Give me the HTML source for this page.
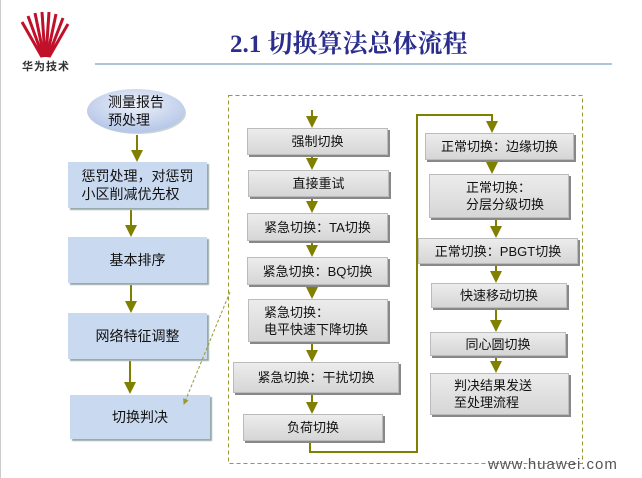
<!DOCTYPE html>
<html><head><meta charset="utf-8"><style>
body{margin:0;width:642px;height:478px;background:#fff;position:relative;overflow:hidden;font-family:"Liberation Sans","Noto Sans CJK SC",sans-serif;}
.b{position:absolute;box-sizing:border-box;background:linear-gradient(#ececec,#d6d6d6);border:1px solid #bbb;box-shadow:2px 2px 0 #888;font-size:13px;color:#111;display:flex;align-items:center;justify-content:center;line-height:17px;}
.l{position:absolute;box-sizing:border-box;background:#c9d9f0;box-shadow:2px 2px 1px #9aa;font-size:14px;color:#111;display:flex;align-items:center;justify-content:center;line-height:18px;text-align:left;}
</style></head><body>
<div style="position:absolute;left:0;top:0;width:1px;height:478px;background:#ccc"></div>
<svg width="642" height="478" style="position:absolute;left:0;top:0">
<defs><marker id="a" markerWidth="6" markerHeight="6" refX="5" refY="3" orient="auto"><path d="M0,0L6,3L0,6z" fill="#7f7f00"/></marker>
<radialGradient id="e" cx="50%" cy="35%" r="60%"><stop offset="0" stop-color="#eef2fb"/><stop offset="1" stop-color="#b8c8e8"/></radialGradient></defs>
<g stroke="#c0102a" stroke-width="3" fill="none">
<path d="M42,57 L22,22"/><path d="M43,57 L28,16"/><path d="M44,57 L35,13"/><path d="M45,57 L42,12"/><path d="M46,57 L49,12"/><path d="M47,57 L56,14"/><path d="M48,57 L63,18"/><path d="M49,57 L68,24"/>
</g>
<line x1="95" y1="64" x2="612" y2="64" stroke="#8fb4cf" stroke-width="1.5"/>
<rect x="228.5" y="95.5" width="354" height="368" fill="none" stroke="#9a9a30" stroke-dasharray="4,3"/>
<ellipse cx="138" cy="113" rx="48" ry="21" fill="#9aa" opacity=".5"/>
<ellipse cx="136" cy="111" rx="49" ry="22" fill="url(#e)"/>
<g stroke="#7f7f00" stroke-width="2" fill="none" marker-end="url(#a)">
<line x1="137" y1="135" x2="137" y2="160"/>
<line x1="131" y1="210" x2="131" y2="235"/>
<line x1="131" y1="285" x2="131" y2="311"/>
<line x1="130" y1="361" x2="130" y2="392"/>
<line x1="312" y1="110" x2="312" y2="126"/>
<line x1="312" y1="157" x2="312" y2="168"/>
<line x1="312" y1="199" x2="312" y2="211"/>
<line x1="312" y1="243" x2="312" y2="255"/>
<line x1="312" y1="287" x2="312" y2="297"/>
<line x1="312" y1="344" x2="312" y2="360"/>
<line x1="312" y1="395" x2="312" y2="412"/>
<path d="M310,443 V452 H417 V115 H492 V131"/>
<line x1="492" y1="162" x2="492" y2="172"/>
<line x1="496" y1="220" x2="496" y2="236"/>
<line x1="496" y1="266" x2="496" y2="281"/>
<line x1="496" y1="310" x2="496" y2="330"/>
<line x1="496" y1="358" x2="496" y2="371"/>
</g>
</svg>
<div style="position:absolute;left:22px;top:58px;font-size:11px;font-weight:bold;color:#333;letter-spacing:1px">华为技术</div>
<div style="position:absolute;left:230px;top:24px;font-family:'Liberation Serif','Noto Serif CJK SC',serif;font-weight:bold;font-size:25px;color:#2b2e8c">2.1 切换算法总体流程</div>
<div style="position:absolute;left:488px;top:456px;font-size:15px;color:#555;letter-spacing:1px">www.huawei.com</div>
<div style="position:absolute;left:108px;top:93px;font-size:14px;line-height:18px;color:#111">测量报告<br>预处理</div>
<div class="l" style="left:68px;top:162px;width:139px;height:46px">惩罚处理，对惩罚<br>小区削减优先权</div>
<div class="l" style="left:68px;top:237px;width:139px;height:46px">基本排序</div>
<div class="l" style="left:68px;top:313px;width:139px;height:46px">网络特征调整</div>
<div class="l" style="left:70px;top:395px;width:140px;height:44px">切换判决</div>
<div class="b" style="left:247px;top:128px;width:141px;height:27px">强制切换</div>
<div class="b" style="left:248px;top:170px;width:141px;height:27px">直接重试</div>
<div class="b" style="left:247px;top:213px;width:141px;height:28px">紧急切换：TA切换</div>
<div class="b" style="left:247px;top:257px;width:141px;height:28px">紧急切换：BQ切换</div>
<div class="b" style="left:248px;top:299px;width:140px;height:43px;justify-content:flex-start;padding-left:15px">紧急切换：<br>电平快速下降切换</div>
<div class="b" style="left:233px;top:362px;width:166px;height:31px">紧急切换：干扰切换</div>
<div class="b" style="left:243px;top:414px;width:140px;height:27px">负荷切换</div>
<div class="b" style="left:425px;top:133px;width:149px;height:27px">正常切换：边缘切换</div>
<div class="b" style="left:429px;top:174px;width:140px;height:44px;justify-content:flex-start;padding-left:36px">正常切换：<br>分层分级切换</div>
<div class="b" style="left:418px;top:238px;width:160px;height:26px">正常切换：PBGT切换</div>
<div class="b" style="left:431px;top:283px;width:136px;height:25px">快速移动切换</div>
<div class="b" style="left:430px;top:332px;width:136px;height:24px">同心圆切换</div>
<div class="b" style="left:430px;top:373px;width:139px;height:42px;justify-content:flex-start;padding-left:23px">判决结果发送<br>至处理流程</div>
<svg width="642" height="478" style="position:absolute;left:0;top:0">
<defs><marker id="d" markerWidth="6" markerHeight="6" refX="5" refY="3" orient="auto"><path d="M0,0L6,3L0,6z" fill="#9a9a30"/></marker></defs>
<line x1="230" y1="292" x2="184" y2="404" stroke="#9a9a30" stroke-dasharray="3,2" marker-end="url(#d)"/>
</svg>
</body></html>
